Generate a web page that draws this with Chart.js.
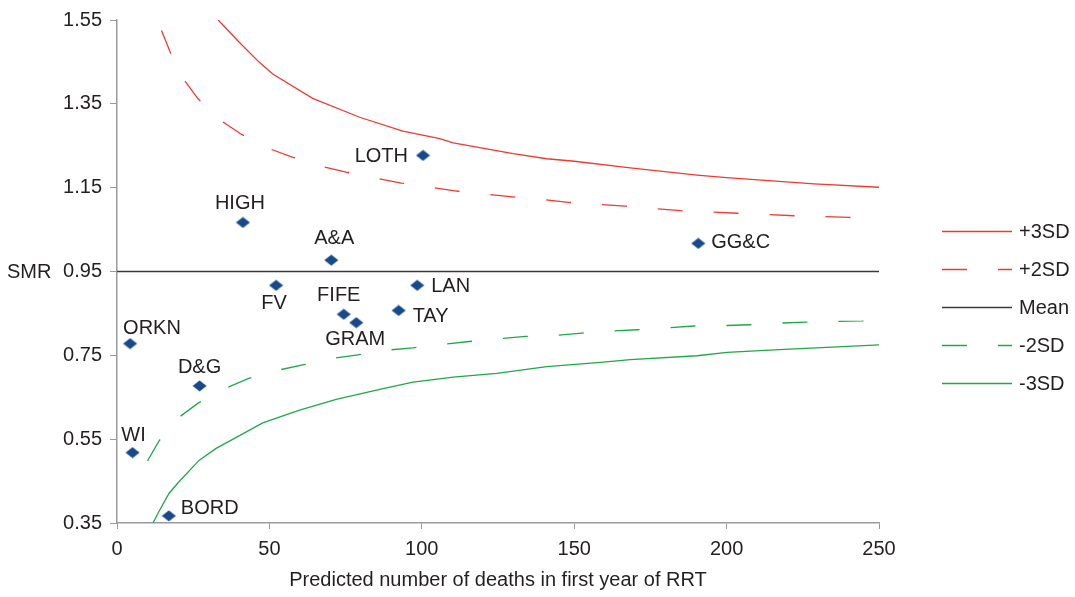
<!DOCTYPE html>
<html>
<head>
<meta charset="utf-8">
<script src="https://cdn.jsdelivr.net/npm/chart.js@4/dist/chart.umd.min.js"></script>
<style>
  html, body { margin: 0; padding: 0; background: #fff; }
  #wrap { width: 1075px; height: 597px; }
</style>
</head>
<body>
<div id="wrap"><canvas id="funnel"></canvas></div>
<script>
// health boards: predicted deaths vs SMR
const boards = ['ORKN', 'WI', 'BORD', 'D&G', 'FV', 'HIGH', 'A&A', 'LOTH', 'LAN', 'TAY', 'FIFE', 'GRAM', 'GG&C'];
const expected = [4.3, 5.1, 17, 27.1, 52.2, 41.3, 70.3, 100.4, 98.5, 92.4, 74.4, 78.5, 190.7];
const smr = [0.778, 0.518, 0.367, 0.677, 0.917, 1.067, 0.977, 1.227, 0.917, 0.857, 0.848, 0.828, 1.017];

// control limits
const plus3X = [33.2, 40.1, 46.7, 51.1, 64.2, 79.6, 93.8, 105.9, 110.3, 130, 141, 150, 168.4, 190.3, 200, 228.7, 250];
const plus3Y = [1.55, 1.497, 1.449, 1.421, 1.363, 1.318, 1.285, 1.267, 1.257, 1.231, 1.219, 1.213, 1.197, 1.18, 1.174, 1.159, 1.151];

const plus2X = [14.6, 17.4, 22.0, 26.6, 34.1, 40.9, 50, 57.5, 67.5, 75.2, 85.6, 93.3, 103.7, 111.4, 121.8, 129.7, 140.5, 148.1, 158.6, 166.8, 184.9, 203.5, 222.1, 240.2, 250];
const plus2Y = [1.525, 1.474, 1.407, 1.362, 1.310, 1.277, 1.243, 1.223, 1.2, 1.187, 1.172, 1.161, 1.15, 1.142, 1.134, 1.128, 1.121, 1.115, 1.11, 1.106, 1.095, 1.089, 1.083, 1.079, 1.075];

const meanX = [0, 250];
const meanY = [0.95, 0.95];

const minus2X = [10, 13.8, 20.5, 26.6, 35.8, 43.2, 53.1, 60.9, 71.2, 79, 89.5, 97.1, 107.8, 115.6, 126, 134.1, 144.3, 152.5, 162.9, 170.6, 181, 189.3, 199.4, 207.6, 217.8, 226, 236.4, 244.6, 250];
const minus2Y = [0.498, 0.546, 0.603, 0.636, 0.672, 0.695, 0.715, 0.727, 0.743, 0.751, 0.763, 0.768, 0.777, 0.783, 0.79, 0.795, 0.798, 0.803, 0.808, 0.811, 0.816, 0.82, 0.821, 0.823, 0.827, 0.829, 0.831, 0.832, 0.834];

const minus3X = [11.8, 13.8, 17.1, 20.4, 27, 32.5, 37.8, 47.8, 59.9, 71.9, 86.2, 97.1, 110.3, 124.6, 141, 158.6, 168.4, 190.3, 200.2, 215.6, 250];
const minus3Y = [0.35, 0.378, 0.421, 0.449, 0.5, 0.528, 0.549, 0.589, 0.619, 0.645, 0.669, 0.686, 0.698, 0.707, 0.723, 0.733, 0.74, 0.749, 0.757, 0.763, 0.775];

const yTicks = [0.35, 0.55, 0.75, 0.95, 1.15, 1.35, 1.55];

// label placement (style only)
const labelAlign = ['left', 'center', 'left', 'center', 'center', 'center', 'center', 'right', 'left', 'left', 'center', 'center', 'left'];
const labelDx = [-7, 1, 12, 0, -2, -3, 3, -15, 14, 14, -5, -1, 13];
const labelDy = [-15, -17, -7, -18, 18, -19, -22, 1, 1, 6, -19, 17, -1];

const RED = '#ee3a33';
const GREEN = '#1fa84a';
const TEXT = '#231f20';
const FONT = '"Liberation Sans", Arial, sans-serif';

function pts(xs, ys) {
    return xs.map((x, i) => ({ x: x, y: ys[i] }));
}

// flattened diamond marker
const marker = document.createElement('canvas');
marker.width = 15;
marker.height = 12;
const mctx = marker.getContext('2d');
mctx.fillStyle = '#174a8b';
mctx.beginPath();
mctx.moveTo(7.5, 0.5);
mctx.lineTo(14.5, 6);
mctx.lineTo(7.5, 11.5);
mctx.lineTo(0.5, 6);
mctx.closePath();
mctx.fill();

function limitLine(label, xs, ys, color, dash) {
    return {
        label: label,
        data: pts(xs, ys),
        showLine: true,
        borderColor: color,
        borderWidth: 1.3,
        borderDash: dash,
        pointRadius: 0,
        fill: false,
        tension: 0
    };
}

const labelPlugin = {
    id: 'boardLabels',
    afterDatasetsDraw(chart) {
        const meta = chart.getDatasetMeta(5);
        const ctx = chart.ctx;
        ctx.save();
        ctx.font = '20px ' + FONT;
        ctx.fillStyle = TEXT;
        ctx.textBaseline = 'middle';
        meta.data.forEach((p, i) => {
            ctx.textAlign = labelAlign[i];
            ctx.fillText(boards[i], p.x + labelDx[i], p.y + labelDy[i]);
        });
        ctx.restore();
    }
};

const sideText = {
    id: 'sideText',
    afterDraw(chart) {
        const ctx = chart.ctx;
        const area = chart.chartArea;
        ctx.save();
        ctx.font = '20px ' + FONT;
        ctx.fillStyle = TEXT;
        ctx.textBaseline = 'middle';
        ctx.textAlign = 'left';
        ctx.fillText('SMR', 7, (area.top + area.bottom) / 2 + 1);

        // legend
        const x0 = 942, len = 70;
        for (let i = 0; i < 5; i++) {
            const ds = chart.data.datasets[i];
            const y = 231.5 + i * 38;
            ctx.beginPath();
            ctx.strokeStyle = ds.borderColor;
            ctx.lineWidth = 1.6;
            ctx.setLineDash(ds.borderDash || []);
            ctx.moveTo(x0, y);
            ctx.lineTo(x0 + len, y);
            ctx.stroke();
            ctx.setLineDash([]);
            ctx.fillText(ds.label, 1019, y + 1);
        }
        ctx.restore();
    }
};

const ctx = document.getElementById('funnel').getContext('2d');
const chart = new Chart(ctx, {
    type: 'scatter',
    data: {
        datasets: [
            limitLine('+3SD', plus3X, plus3Y, RED, []),
            limitLine('+2SD', plus2X, plus2Y, RED, [25, 31]),
            limitLine('Mean', meanX, meanY, '#3a3a3a', []),
            limitLine('-2SD', minus2X, minus2Y, GREEN, [25, 31]),
            limitLine('-3SD', minus3X, minus3Y, GREEN, []),
            {
                label: 'Boards',
                data: pts(expected, smr),
                pointStyle: marker,
                pointRadius: 7,
                showLine: false
            }
        ]
    },
    options: {
        responsive: true,
        maintainAspectRatio: false,
        animation: false,
        layout: { padding: { top: 17, right: 196, left: 0, bottom: 0 } },
        plugins: {
            legend: { display: false },
            tooltip: { enabled: false }
        },
        scales: {
            x: {
                type: 'linear',
                min: 0,
                max: 250,
                border: { color: '#9a9a9a', width: 1.5 },
                grid: { drawOnChartArea: false, drawTicks: true, tickLength: 6, color: '#9a9a9a' },
                ticks: { stepSize: 50, padding: 8, color: TEXT, font: { family: FONT, size: 20 }, maxRotation: 0 },
                title: {
                    display: true,
                    text: 'Predicted number of deaths in first year of RRT',
                    color: TEXT,
                    font: { family: FONT, size: 20 },
                    padding: { top: 0, bottom: 5 }
                },
                afterFit(scale) { scale.height = 74; }
            },
            y: {
                type: 'linear',
                min: yTicks[0],
                max: yTicks[yTicks.length - 1],
                border: { color: '#9a9a9a', width: 1.5 },
                grid: { drawOnChartArea: false, drawTicks: true, tickLength: 7, color: '#9a9a9a' },
                ticks: {
                    stepSize: 0.2,
                    padding: 8,
                    color: TEXT,
                    font: { family: FONT, size: 20 },
                    callback: v => v.toFixed(2)
                },
                afterFit(scale) { scale.width = 117; }
            }
        }
    },
    plugins: [labelPlugin, sideText]
});
</script>
</body>
</html>
